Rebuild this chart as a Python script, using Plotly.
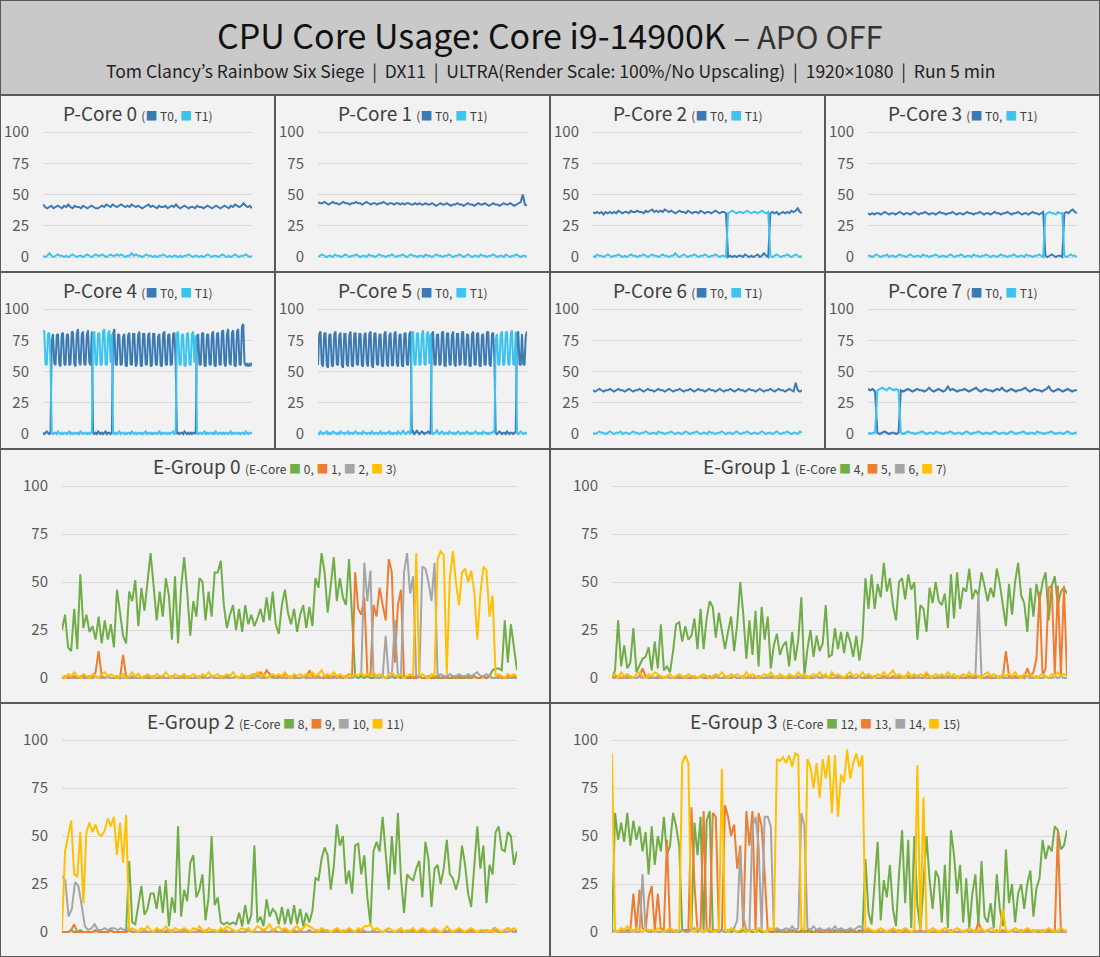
import numpy as np
import plotly.graph_objects as go

# ====================== DATA ======================
main_title = "CPU Core Usage: Core i9-14900K"
main_title_suffix = "– APO OFF"
subtitle_parts = ["Tom Clancy’s Rainbow Six Siege", "DX11", "ULTRA(Render Scale: 100%/No Upscaling)", "1920×1080", "Run 5 min"]
run_seconds = 300
y_ticks = [0, 25, 50, 75, 100]

p_titles = ["P-Core 0", "P-Core 1", "P-Core 2", "P-Core 3", "P-Core 4", "P-Core 5", "P-Core 6", "P-Core 7"]
thread_names = ["T0", "T1"]
e_titles = ["E-Group 0", "E-Group 1", "E-Group 2", "E-Group 3"]
e_core_ids = [["0", "1", "2", "3"], ["4", "5", "6", "7"], ["8", "9", "10", "11"], ["12", "13", "14", "15"]]

# ---- P-cores (usage %) ----
p0_t0 = [42,40,39,40,41,39,40,41,40,39, 41,40,42,40,39,41,40,40,39,41, 40,39,40,41,40,39,39,40,41,40,
         42,41,40,42,41,40,41,42,41,40, 41,40,42,41,40,41,40,39,40,41, 42,40,41,40,39,41,40,40,41,39,
         40,41,40,42,40,39,40,41,40,39, 40,40,39,41,40,40,39,40,41,40, 39,40,41,40,39,40,41,40,39,41,
         40,42,41,40,41,43,41,40,41,39]
p0_t1 = [1,0,1,3,1,0,1,2,1,1, 0,1,0,1,2,1,0,1,1,0, 1,2,1,0,1,2,1,1,2,1, 0,1,2,1,1,2,1,2,1,0,
         1,1,3,1,2,1,1,0,1,2, 1,1,0,1,0,1,1,2,1,0, 1,0,1,1,0,1,0,1,1,2, 1,0,1,1,0,1,0,1,2,1,
         0,1,1,0,1,2,1,0,1,0, 1,2,1,0,1,1,2,1,0,1]
p1_t0 = [44,43,43,44,43,42,43,44,43,43, 42,43,44,43,43,42,43,43,44,43, 43,42,43,44,43,42,43,43,42,43,
         43,44,43,42,43,43,42,43,43,42, 43,42,43,43,42,42,43,42,43,42, 42,43,42,42,43,42,41,42,43,42,
         42,43,42,41,42,42,43,42,42,41, 42,43,42,42,41,42,43,42,42,43, 42,41,42,43,42,42,41,42,43,42,
         42,43,42,41,42,43,44,50,42,41]
p1_t1 = [0,1,2,1,0,1,1,0,2,1, 1,0,1,2,1,0,1,1,2,1, 0,1,1,0,2,1,1,0,1,2, 1,1,0,1,1,2,1,0,1,1,
         2,1,0,1,2,1,1,0,1,1, 0,2,1,1,0,1,2,1,1,0, 1,1,2,1,0,1,1,2,1,0, 1,2,1,0,1,1,0,2,1,1,
         0,1,1,2,1,0,1,1,0,2, 1,0,1,1,2,1,0,1,1,0]
p2_t0 = [36,35,36,35,36,34,36,35,36,35, 36,35,37,36,35,36,36,35,37,36, 36,37,36,36,35,37,36,37,38,36,
         37,36,37,36,38,37,36,37,36,35, 36,37,36,36,35,37,36,35,36,36, 35,37,36,35,36,36,35,36,37,36,
         35,36,36,35,
         0,1,0,1,0,1,1,0,2,1, 0,1,0,1,2,0,1,3,1,0,
         35,36,35,36,34,35,36,35,36,35, 37,36,37,39,36,35]
p2_t1 = [1,0,2,1,1,0,1,2,1,0, 1,1,2,1,0,1,0,1,2,1, 1,0,1,1,2,1,0,1,2,1, 1,0,1,2,1,1,0,1,1,3,
         1,0,1,2,1,0,1,1,2,1, 0,1,1,2,1,0,1,1,2,1, 0,1,1,0,
         35,36,37,36,35,36,36,35,36,37, 36,35,36,36,35,36,37,36,35,36,
         1,0,1,2,1,0,1,1,2,1, 0,1,2,1,0,1]
p3_t0 = [35,34,35,34,35,35,34,35,36,35, 34,35,35,34,35,36,35,34,35,35, 34,35,36,35,34,35,35,36,35,34,
         35,35,34,35,36,35,35,34,35,35, 36,35,34,35,35,34,35,36,35,35, 34,35,35,36,35,34,35,35,34,35,
         36,35,35,34,35,35,36,35,34,35, 35,36,35,34,35,35,34,35,36,35, 35,34,35,36,
         1,0,1,2,1,0,1,1,0,
         35,36,35,37,38,36,35]
p3_t1 = [1,1,0,1,2,1,0,1,1,2, 0,1,1,0,1,2,1,1,0,1, 2,1,0,1,1,0,2,1,1,0, 1,1,2,1,0,1,1,0,1,2,
         1,0,1,1,2,1,0,1,1,0, 2,1,1,0,1,1,2,1,0,1, 1,0,1,2,1,1,0,1,1,2, 1,0,1,1,0,2,1,1,0,1,
         1,2,1,0,
         34,35,36,35,35,34,36,35,35,
         1,0,1,2,1,1,0]
p4_t0 = [1,0,1,2,1,0,1,
         75,80,57,55,79,80,56,54,80,81, 56,55,79,80,55,56,82,81,56,54, 80,84,57,55,80,82,56,55,79,83, 57,55,82,
         1,0,1,0,2,1,0,1,0,1,2,0,1,1,0,1,
         80,84,56,55,80,79,55,56,78,80, 55,54,79,81,56,55,80,80,54,56, 79,82,55,54,80,80,56,55,79,81,
         54,55,80,80,56,55,78,80,55,54, 80,82,56,55,79,80,55,56,80,81, 57,
         0,1,0,1,1,0,2,1,0,1,0,1,0,1,1,0,
         78,80,56,55,80,81,55,54,79,80, 56,55,80,82,55,54,80,81,56,55, 82,83,56,54,80,84,57,55,81,83,
         55,54,82,84,56,55,86,88,57,55, 56,54,56,55,57]
p4_t1 = [83,82,56,55,80,81,57,
         1,0,1,1,0,2,1,0,1,0, 1,1,0,1,2,0,1,0,1,1, 0,1,0,2,1,0,1,1,0,1, 0,1,1,
         80,82,56,55,80,81,55,56,82,84,56,55,80,83,57,80,
         1,0,1,0,1,2,0,1,1,0, 1,0,1,1,0,2,1,0,1,0, 1,1,0,1,0,1,2,0,1,1, 0,1,0,1,1,0,1,2,0,1,
         0,1,1,0,1,0,1,1,2,0, 1,
         80,82,56,55,79,80,55,54,80,81,56,55,80,82,57,79,
         1,0,1,1,0,1,2,0,1,0, 1,1,0,1,0,2,1,0,1,1, 0,1,0,1,1,0,1,2,0,1, 0,1,1,0,1,0,1,1,0,2,
         1,0,1,1,0]
p5_t0 = [55,80,82,56,54,80,81,55,53,79, 80,55,54,80,82,56,55,79,81,55, 53,80,80,56,54,79,82,55,54,80,
         81,56,55,80,80,55,54,79,81,56, 54,80,82,55,53,80,81,56,55,79, 80,55,54,80,82,56,54,79,81,55,
         55,80,82,56,54,79,80,55,54,80, 81,56,55,80,82,
         1,2,0,1,3,1,0,1,2,1,0,1,1,2,1,0,
         80,82,56,55,79,80,55,56,81,82, 55,54,80,81,56,55,79,82,56,54, 80,80,55,56,81,82,56,55,80,79,
         55,54,80,82,56,55,80,81,55,54, 79,80,56,55,81,82,56,54,80,81, 57,
         1,0,1,2,1,0,1,1,0,2,1,0,1,1,0,1,2,
         80,82,56,55,80,56,55,78,82]
p5_t1 = [1,0,2,1,0,1,1,2,0,1, 0,1,2,1,1,0,1,0,2,1, 1,0,1,1,2,0,1,1,0,1, 2,1,0,1,1,0,2,1,1,0,
         1,1,0,2,1,0,1,1,0,1, 2,0,1,1,0,1,1,2,0,1, 0,1,1,0,2,1,0,1,3,1, 0,1,2,1,0,
         80,82,56,55,80,81,55,56,80,83,56,55,80,82,56,80,
         1,0,1,1,3,1,0,1,2,1, 0,1,1,0,2,1,1,0,1,0, 1,2,1,0,1,1,0,1,2,1, 0,1,0,1,1,2,1,0,1,1,
         0,2,1,1,0,1,0,1,1,2, 1,
         75,80,56,55,80,82,55,56,81,82,56,55,80,83,56,55,82,
         1,0,1,2,1,0,1,1,0]
p6_t0 = [35,34,35,36,35,34,35,35,36,35, 34,35,36,35,35,34,35,36,35,34, 35,35,36,35,34,35,36,35,35,34,
         35,36,35,35,34,35,36,35,34,35, 35,36,35,34,35,35,36,35,34,35, 36,35,35,34,35,36,35,35,34,35,
         36,35,34,35,35,36,35,34,35,36, 35,35,34,35,36,35,35,34,35,36, 35,34,35,35,36,35,34,35,36,35,
         35,34,35,36,35,34,41,35,34,35]
p6_t1 = [1,0,1,2,1,1,0,1,2,1, 0,1,1,2,0,1,1,0,1,2, 1,1,0,1,1,2,1,0,1,1, 0,2,1,1,0,1,1,2,1,0,
         1,1,0,1,2,1,0,1,1,2, 1,0,1,1,0,2,1,1,0,1, 1,2,1,0,1,1,0,1,2,1, 0,1,1,2,1,0,1,1,0,1,
         2,1,0,1,1,0,1,2,1,0, 1,1,2,1,0,1,1,0,2,1]
p7_t0 = [36,35,36,34,
         1,0,1,2,1,0,1,1,0,1,
         35,34,35,36,35,34,35,36,35,35, 34,35,37,35,34,35,36,35,34,35, 38,35,36,35,34,35,35,36,35,34,
         35,36,37,35,34,35,36,35,35,34, 35,36,35,37,35,34,35,36,35,34, 35,35,36,37,35,34,35,36,35,35,
         34,35,36,38,35,34,35,36,35,34, 35,36,35,34,35,35]
p7_t1 = [1,0,1,1,
         35,36,37,36,35,37,36,35,36,35,
         1,0,1,2,1,1,0,1,1,2, 1,0,1,1,0,2,1,1,0,1, 1,2,1,0,1,1,0,1,2,1, 0,1,1,2,1,0,1,1,0,1,
         2,1,0,1,1,0,1,2,1,0, 1,1,2,1,0,1,1,0,2,1, 1,0,1,1,2,1,0,1,1,0, 1,2,1,0,1,1]

# ---- E-cores (usage %) ----
e0 = [25,33,16,14,36,15,54,26,33,24, 27,20,32,18,30,20,28,16,46,33, 22,18,45,40,51,27,47,35,52,65,
      48,30,45,32,52,43,20,53,18,47, 63,45,22,40,32,52,50,30,45,32, 55,55,61,38,26,33,38,25,36,24,
      38,28,33,27,31,36,29,42,30,45, 28,23,38,46,34,28,36,24,33,38, 26,37,27,52,47,65,55,34,48,63,
      40,52,42,38,62,28,1,0,1,0, 1,0,0,1,0,1,0,0,1,0, 1,0,1,0,0,1,0,1,0,0,
      1,0,1,0,0,1,0,0,1,0, 1,0,0,1,0,1,0,0,1,0, 1,4,5,5,4,30,8,28,16,4]
e1 = [0,1,0,0,1,0,0,1,0,1, 0,3,14,1,0,1,0,0,1,0, 12,1,0,0,1,2,0,1,0,0, 1,0,0,1,0,0,1,0,0,1,
      0,1,0,0,1,0,1,0,0,1, 0,0,1,0,1,0,0,1,0,0, 1,0,0,2,1,3,1,4,2,1, 0,1,0,2,1,0,1,0,0,1,
      0,4,1,0,1,0,0,1,0,1, 0,1,0,1,2,1,55,36,33,42, 2,1,38,32,47,38,30,62,55,8,
      38,46,1,0,1,0,0,1,0,0, 1,0,0,1,0,0,1,0,0,1, 0,0,1,0,0,1,0,0,1,0, 1,0,0,1,0,0,1,0,1,0]
e2 = [0,0,1,0,0,0,1,0,0,0, 0,1,0,0,0,1,0,0,0,1, 0,0,0,1,0,0,0,0,1,0, 0,0,1,0,0,0,1,0,0,0,
      1,0,0,0,0,1,0,0,0,1, 0,0,0,1,0,0,0,1,0,0, 0,1,0,0,1,0,0,0,1,0, 0,0,1,0,0,1,0,0,0,1,
      0,0,0,1,0,0,1,0,0,0, 1,0,0,1,0,0,1,1,2,60, 40,56,1,0,0,1,22,0,1,30,
      1,1,55,65,44,53,1,1,58,57, 50,40,60,1,2,1,1,2,1,1, 2,1,1,2,1,2,3,1,1,2, 1,0,0,0,1,0,0,0,0,0]
e3 = [1,0,2,1,3,1,0,2,1,0, 2,1,0,2,3,1,2,1,0,1, 2,0,1,3,1,2,0,1,2,1, 0,2,1,1,3,1,0,2,1,1,
      2,0,1,2,1,0,2,1,3,1, 1,2,0,1,2,1,3,1,0,2, 1,0,2,1,3,1,2,0,1,2, 1,2,1,3,1,0,2,1,2,1,
      2,1,3,1,2,4,1,2,1,3, 1,2,1,0,2,1,2,1,3,1, 2,1,3,1,2,1,0,2,3,1,
      1,2,0,1,2,1,65,1,2,1, 0,2,1,62,66,64,2,52,66,50, 38,55,57,50,56,45,20,44,58,56, 32,43,1,2,1,0,2,1,2,1]

e4 = [0,4,30,6,17,5,8,26,3,7, 10,11,16,4,19,5,28,4,6,3, 14,28,29,19,27,20,22,31,15,36,
      15,31,40,37,21,34,25,15,24,32, 14,28,50,33,10,30,12,35,6,37, 20,32,5,17,23,12,17,19,6,24,
      9,20,42,1,15,25,11,22,14,18, 38,11,12,26,15,24,13,24,19,11, 22,9,20,52,36,54,36,49,42,60,
      45,52,38,30,50,52,41,54,46,50, 20,38,36,24,47,39,50,40,38,44, 26,54,31,55,36,47,45,57,41,46,
      43,55,48,40,47,42,57,49,38,27, 49,33,50,60,43,39,24,47,32,49, 40,50,55,30,48,53,38,45,47,44]
e5 = [0,1,0,0,1,0,1,0,0,1, 5,1,0,1,0,0,1,0,1,0, 0,1,0,0,1,0,0,1,0,1, 0,0,1,0,1,0,0,1,0,0,
      1,0,0,1,0,1,0,0,1,0, 0,1,0,1,0,0,1,0,0,1, 0,0,1,0,1,0,0,1,0,1, 1,0,2,1,0,1,0,0,1,0,
      0,1,0,0,1,0,1,0,0,1, 0,0,1,0,0,1,0,1,0,0, 1,0,0,2,1,0,0,1,0,1, 0,1,0,0,1,0,0,1,0,0,
      1,0,0,1,0,0,1,0,1,14, 1,0,1,0,1,0,5,1,3,10, 45,1,5,47,48,2,48,1,48,1]
e6 = [0,0,1,0,0,1,0,0,0,1, 0,1,0,0,0,1,0,0,1,0, 0,0,1,0,0,0,1,0,0,1, 0,1,0,0,1,0,0,0,1,0,
      1,0,0,1,0,0,0,1,0,0, 0,0,1,0,1,0,0,0,1,0, 0,1,0,0,0,1,0,1,0,0, 1,0,0,0,1,0,0,1,0,0,
      0,1,0,1,0,0,1,0,0,0, 1,0,0,0,1,0,1,0,0,1, 0,0,1,0,0,1,0,0,1,0, 1,0,0,1,0,0,1,0,1,1,
      44,1,0,0,1,0,0,1,0,0, 0,1,0,0,1,0,1,0,0,1, 0,0,1,0,0,1,0,1,0,0]
e7 = [1,2,0,3,1,2,1,0,2,3, 1,0,2,1,3,2,1,0,1,2, 0,1,2,1,0,2,1,1,0,1, 2,1,0,1,2,1,3,1,0,2,
      1,2,1,0,3,1,2,1,0,1, 2,1,3,1,0,2,1,0,2,1, 1,3,1,2,0,1,2,1,3,1, 2,0,3,1,2,1,0,2,3,1,
      2,1,3,1,2,1,0,2,1,3, 1,2,4,1,2,1,0,3,1,2, 1,2,1,3,1,0,2,1,2,1, 3,1,2,0,1,2,1,3,1,2,
      1,0,2,3,1,2,1,0,2,1, 2,1,3,1,0,2,1,2,1,0, 1,2,1,0,2,1,3,1,2,1]

e8 = [0,0,0,1,0,0,1,0,0,0, 0,1,0,0,0,0,1,0,0,0, 0,1,37,5,4,14,24,9,12,20,
      20,12,24,10,27,3,18,10,55,8, 22,16,36,40,18,22,30,6,18,50, 14,18,5,4,5,4,5,4,10,3,
      14,4,9,45,5,8,3,17,8,12, 10,4,13,4,12,4,14,4,12,3, 10,5,11,28,27,38,44,40,22,34,
      56,45,50,25,32,20,45,46,30,40, 18,4,42,47,42,60,40,22,50,30, 62,28,10,30,28,27,33,37,18,47,
      38,13,33,35,25,33,48,30,28,22, 28,45,35,20,13,32,55,33,45,15, 35,30,52,55,43,42,52,50,35,42]
e9 = [0,0,0,1,4,0,0,0,0,0, 0,1,0,0,0,0,1,0,0,0, 0,0,1,0,0,0,0,1,0,0, 0,1,0,0,0,0,1,0,0,0,
      1,0,0,0,0,1,0,0,0,0, 0,0,1,0,0,0,1,0,0,0, 0,1,0,0,0,0,1,0,0,1, 0,0,0,1,0,0,0,0,1,0,
      0,1,0,0,0,1,0,0,0,0, 1,0,0,0,1,0,0,1,0,0, 0,0,1,0,0,0,1,0,0,0, 1,0,0,0,0,1,0,0,1,0,
      0,0,1,0,0,0,0,1,0,0, 1,0,0,0,1,0,0,0,0,1, 0,0,1,0,0,1,2,1,0,1]
e10 = [29,27,8,12,26,24,14,3,1,2, 4,1,1,2,1,2,2,1,2,1, 2,1,0,0,0,0,0,0,0,0,
       0,0,1,0,0,0,0,0,1,0, 0,0,0,0,1,0,0,0,0,0, 1,0,0,0,0,0,0,1,0,0, 0,0,0,0,0,1,0,0,0,0,
       0,1,0,0,0,0,0,0,1,0, 0,0,0,0,0,0,1,0,0,0, 0,0,1,0,0,0,0,0,0,1, 0,0,0,0,1,0,0,0,0,0,
       0,1,0,0,0,0,0,1,0,0, 0,0,0,0,1,0,0,0,0,0, 0,0,2,1,0,0,0,1,0,0]
e11 = [1,42,50,58,30,29,52,15,52,57, 52,56,51,50,53,59,55,60,40,57, 36,61,1,2,1,0,2,1,3,1,
       0,2,1,1,3,1,0,2,1,1, 2,1,0,2,1,3,1,0,2,1, 1,0,2,1,3,2,1,0,1,2, 1,2,0,1,3,2,1,2,4,1,
       2,3,1,2,1,0,2,3,1,2, 4,3,2,1,0,2,1,1,0,1, 2,1,0,1,2,1,0,2,1,3, 3,4,1,2,1,0,1,2,1,0,
       1,2,0,1,1,2,0,1,2,1, 0,1,2,1,0,1,3,1,0,1, 2,1,0,1,2,1,0,1,1,0, 1,0,2,1,0,1,2,1,2,1]

e12 = [0,62,48,57,47,62,45,58,48,55, 42,52,30,55,35,50,42,60,40,45, 62,55,45,1,1,1,1,57,40,60,
       1,58,63,1,1,0,1,0,1,0, 1,0,0,1,0,1,0,0,1,0, 0,1,0,0,1,0,1,0,0,1, 0,0,1,0,1,0,0,1,0,0,
       1,0,0,1,0,1,0,0,1,0, 0,1,0,38,10,4,25,47,6,27, 18,35,12,3,30,53,15,48,2,50,
       14,1,25,50,27,12,32,28,5,35, 2,53,40,20,35,5,28,2,20,30, 3,37,8,5,15,2,30,12,3,43,
       15,25,5,20,25,12,25,32,8,23, 28,48,38,45,42,55,53,43,45,53]
e13 = [0,1,0,1,0,1,1,20,1,22, 2,1,18,24,1,20,1,2,48,1, 0,1,0,1,1,0,65,25,1,1,
       63,1,1,62,60,1,1,66,60,50, 56,33,45,1,63,45,63,1,62,55, 30,1,0,1,0,1,0,0,1,0,
       1,0,0,1,0,1,0,0,1,0, 0,1,0,0,1,0,1,0,0,1, 0,0,1,0,1,0,0,1,0,1, 0,1,0,0,1,0,1,0,0,1,
       0,1,0,1,0,0,1,0,1,0, 0,1,0,0,1,0,1,0,1,0, 5,1,0,1,0,0,1,0,1,0, 0,1,0,0,1,0,1,0,0,1,
       0,1,0,1,0,0,52,1,0,1]
e14 = [0,1,0,0,1,0,0,1,0,0, 30,1,0,0,1,0,0,1,0,0, 1,0,0,1,0,0,1,2,0,1, 0,1,0,0,1,0,1,0,0,1,
       2,6,43,8,1,1,55,60,45,1, 60,60,55,1,2,1,1,2,1,3, 1,2,62,55,2,1,3,1,2,1, 1,2,1,3,1,2,1,1,2,1,
       2,3,2,0,0,1,0,0,0,0, 0,0,1,0,0,0,0,1,0,0, 0,0,0,0,1,0,0,0,0,0, 1,0,0,0,0,0,1,0,0,0,
       0,0,0,1,0,0,0,0,0,0, 0,1,0,0,0,0,0,0,1,0, 0,0,0,0,0,1,0,0,0,0]
e15 = [93,1,0,2,1,3,1,0,2,1, 0,2,1,1,0,2,1,0,1,2, 1,0,1,88,92,88,1,0,2,1, 0,1,2,0,1,1,85,1,0,2,
       1,0,1,2,0,1,1,0,2,1, 0,1,2,1,90,89,91,88,92,86, 93,92,2,1,90,86,75,88,70,90,
       80,92,62,92,60,82,78,95,80,88, 93,86,92,1,2,1,0,1,2,1, 0,1,2,1,0,1,2,1,0,1,
       87,1,70,1,0,2,1,0,1,2, 1,0,1,2,1,0,1,2,1,0, 1,2,0,1,2,1,0,1,12,1, 0,1,2,1,0,1,2,1,0,1,
       1,0,1,2,1,0,1,2,1,0]

p_series = [(p0_t0, p0_t1), (p1_t0, p1_t1), (p2_t0, p2_t1), (p3_t0, p3_t1),
            (p4_t0, p4_t1), (p5_t0, p5_t1), (p6_t0, p6_t1), (p7_t0, p7_t1)]
e_series = [(e0, e1, e2, e3), (e4, e5, e6, e7), (e8, e9, e10, e11), (e12, e13, e14, e15)]

# ====================== STYLE ======================
W, H = 1100, 957
FONT = "Noto Sans CJK KR, Noto Sans, sans-serif"
LATIN = "Noto Sans"
T_COLORS = ["#3C7AB3", "#3EC3EF"]
E_COLORS = ["#70AD47", "#ED7D31", "#A5A5A5", "#FFC000"]
PANEL_BG = "#F2F2F2"
BORDER = "#595959"
TITLE_BG = "#C9C9C9"


def px(x):
    return x / W


def py(y):
    return 1 - y / H


fig = go.Figure()
shapes = []
annotations = []

# title box
shapes.append(dict(type="rect", xref="paper", yref="paper", x0=0, x1=1, y0=py(95), y1=1,
                   fillcolor=TITLE_BG, line=dict(color=BORDER, width=2), layer="below"))
annotations.append(dict(xref="paper", yref="paper", x=0.5, y=py(34), xanchor="center", yanchor="middle",
                        showarrow=False,
                        text=f"{main_title} <span style='font-size:31px;color:#333333'>{main_title_suffix}</span>",
                        font=dict(family=FONT, size=34, color="#111111")))
sub_html = "  |  ".join(subtitle_parts).replace("×", f"<span style='font-family:{LATIN}'>×</span>")
annotations.append(dict(xref="paper", yref="paper", x=0.5, y=py(71), xanchor="center", yanchor="middle",
                        showarrow=False, text=sub_html,
                        font=dict(family=FONT, size=17.5, color="#222222")))

axis_n = 0


def add_panel(x0, y0, w, h, plot_l, plot_r, y_zero, y_hundred, title_html, title_y, series, colors, lw):
    global axis_n
    axis_n += 1
    k = axis_n
    shapes.append(dict(type="rect", xref="paper", yref="paper", x0=px(x0), x1=px(x0 + w),
                       y0=py(y0 + h), y1=py(y0), fillcolor=PANEL_BG,
                       line=dict(color=BORDER, width=2), layer="below"))
    unit = (y_zero - y_hundred) / 100.0
    lo, hi = -2.0, 101.0
    dom_bottom = y0 + y_zero - lo * unit
    dom_top = y0 + y_zero - hi * unit
    xa = "xaxis" if k == 1 else f"xaxis{k}"
    ya = "yaxis" if k == 1 else f"yaxis{k}"
    xr = "x" if k == 1 else f"x{k}"
    yr = "y" if k == 1 else f"y{k}"
    fig.layout[xa] = dict(domain=[px(x0 + plot_l), px(x0 + plot_r)], anchor=yr, range=[0, run_seconds],
                          showticklabels=False, showgrid=False, zeroline=False, showline=False, ticks="",
                          automargin=False)
    fig.layout[ya] = dict(domain=[py(dom_bottom), py(dom_top)], anchor=xr, range=[lo, hi],
                          tickvals=y_ticks, showgrid=True, gridcolor="#D9D9D9", gridwidth=1,
                          zeroline=False, showline=False, ticks="", ticklabelstandoff=13,
                          automargin=False,
                          tickfont=dict(family=FONT, size=15, color="#595959"))
    for vals, col in zip(series, colors):
        t = np.linspace(0, run_seconds, len(vals))
        fig.add_trace(go.Scatter(x=t, y=vals, mode="lines", xaxis=xr, yaxis=yr,
                                 line=dict(color=col, width=lw), showlegend=False, hoverinfo="skip"))
    annotations.append(dict(xref="paper", yref="paper", x=px(x0 + w / 2), y=py(y0 + title_y),
                            xanchor="center", yanchor="middle", showarrow=False, text=title_html,
                            font=dict(family=FONT, size=19, color="#404040")))


def sq(color):
    return f"<span style='color:{color}'>■</span>"


for i, (title, ser) in enumerate(zip(p_titles, p_series)):
    r, c = divmod(i, 4)
    legend = (f" <span style='font-size:12px'>({sq(T_COLORS[0])} {thread_names[0]}, "
              f"{sq(T_COLORS[1])} {thread_names[1]})</span>")
    add_panel(275 * c, 95 + 177 * r, 275, 177, 43, 252, 162, 37,
              title + legend, 18, ser, T_COLORS, 2)

for j, (title, ser) in enumerate(zip(e_titles, e_series)):
    r, c = divmod(j, 2)
    ids = e_core_ids[j]
    parts = ", ".join(f"{sq(E_COLORS[n])} {ids[n]}" for n in range(4))
    legend = f" <span style='font-size:12px'>(E-Core {parts})</span>"
    add_panel(550 * c, 449 + 254 * r, 550, 254, 62, 517, 229, 37,
              title + legend, 17, ser, E_COLORS, 2)

fig.update_layout(width=W, height=H, autosize=False, margin=dict(l=0, r=0, t=0, b=0, pad=0),
                  paper_bgcolor=PANEL_BG, plot_bgcolor="rgba(0,0,0,0)",
                  shapes=shapes, annotations=annotations, showlegend=False,
                  font=dict(family=FONT))

fig.write_html("out.html", config={"displayModeBar": False},
               post_script="document.body.style.margin='0';document.body.style.padding='0';"
                           "document.body.style.overflow='hidden';")
